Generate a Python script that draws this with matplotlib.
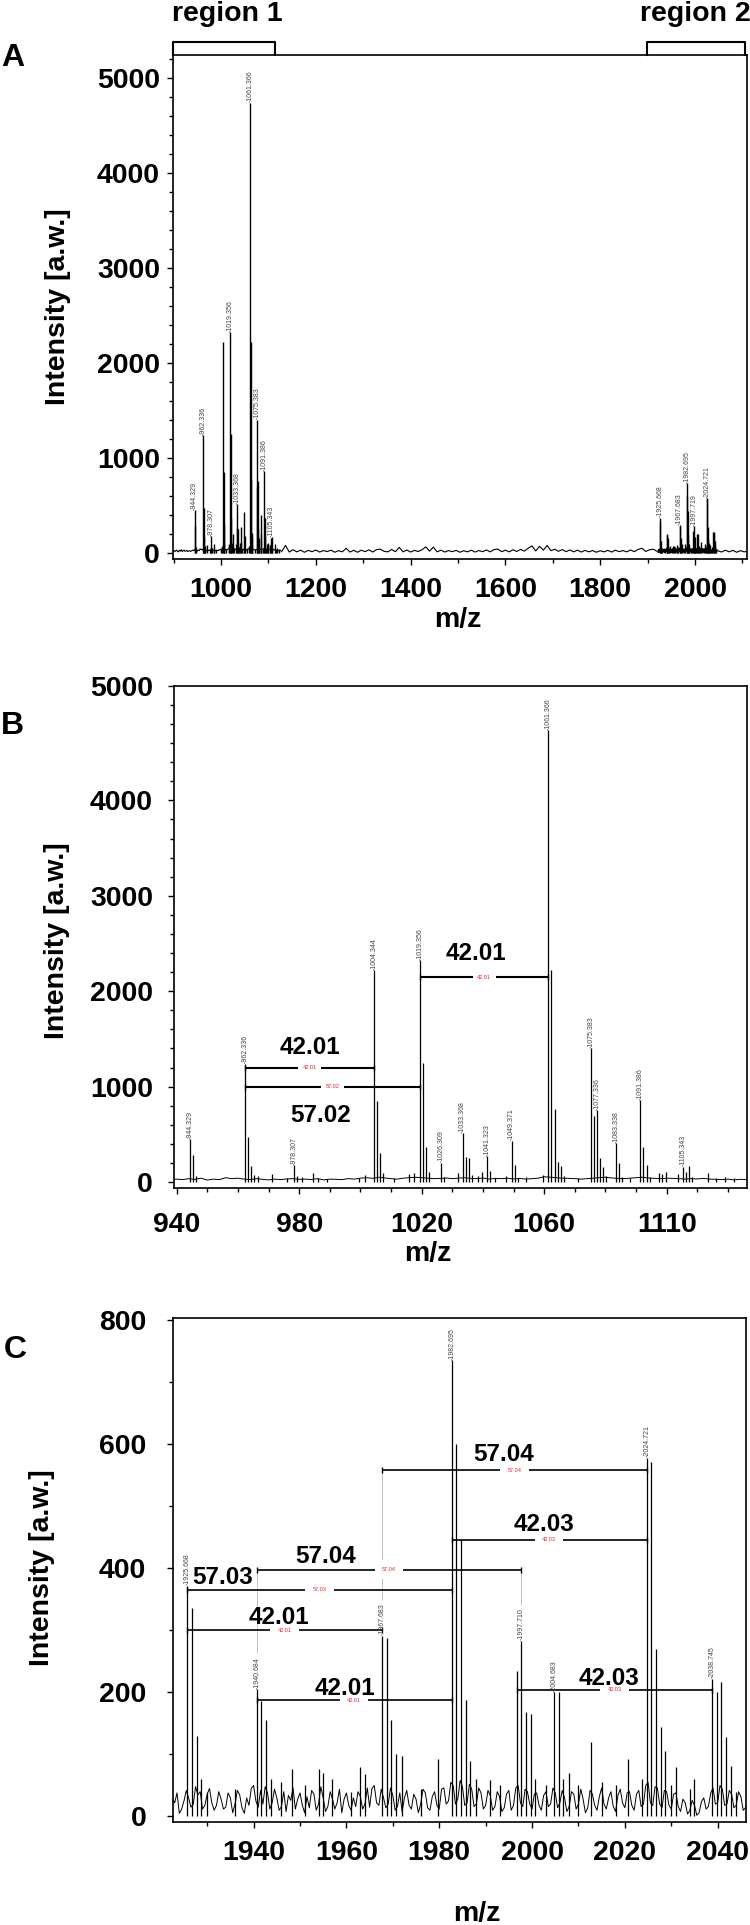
import numpy as np
import matplotlib
matplotlib.use("Agg")
import matplotlib.pyplot as plt
import matplotlib.transforms as mtrans
from matplotlib.ticker import FixedLocator, FixedFormatter

plt.rcParams['font.family'] = ['Liberation Sans', 'DejaVu Sans']
plt.rcParams['font.weight'] = 'bold'

# ====================== DATA ======================
# baseline noise, region 1 (m/z 898 .. 1126, every 2)
base1_mz = np.arange(898.0, 1126.5, 2.0)
base1_int = [20, 15, 25, 18, 30, 22, 12, 28, 20, 35, 15, 25, 30, 18, 22, 28, 15, 20, 25, 18,
             22, 30, 25, 35, 28, 40, 20, 30, 25, 45, 35, 40, 30, 25, 35, 28, 22, 30, 25, 32,
             35, 28, 30, 25, 35, 22, 30, 28, 25, 35, 30, 40, 45, 38, 50, 42, 35, 30, 40, 45,
             50, 45, 40, 35, 38, 42, 35, 40, 45, 38, 35, 42, 30, 38, 35, 40, 32, 38, 30, 35,
             40, 55, 50, 45, 40, 38, 35, 30, 35, 40, 45, 50, 42, 38, 35, 40, 45, 50, 42, 38,
             35, 40, 38, 35, 30, 35, 32, 38, 30, 28, 25, 30, 22, 28, 25]
# baseline noise between the two regions (m/z 1128 .. 1920, every 8)
basemid_mz = np.arange(1128.0, 1920.5, 8.0)
basemid_int = [15, 80, 10, 35, 12, 30, 8, 28, 14, 32,
               10, 26, 15, 30, 8, 25, 12, 50, 10, 28,
               8, 30, 14, 34, 10, 36, 40, 18, 12, 38,
               14, 60, 12, 32, 10, 28, 16, 34, 65, 20,
               62, 12, 30, 10, 26, 14, 28, 8, 24, 12,
               30, 10, 26, 14, 32, 12, 36, 42, 14, 30,
               12, 34, 16, 38, 20, 50, 75, 22, 70, 30,
               80, 25, 40, 18, 36, 14, 32, 12, 30, 10,
               28, 12, 26, 8, 24, 12, 28, 10, 30, 14,
               26, 12, 32, 14, 38, 50, 16, 34, 40, 18]
# baseline noise, region 2 (m/z 1922 .. 2046.5, every 0.5)
base2_mz = np.arange(1922.0, 2046.75, 0.5)
base2_int = [8, 30, 22, 38, 5, 12, 25, 42, 30, 15, 20, 48, 35, 40, 12, 18, 36, 45, 22, 10,
             18, 40, 28, 12, 15, 38, 30, 6, 20, 42, 35, 14, 5, 30, 18, 45, 50, 25, 15, 42,
             20, 48, 38, 12, 22, 44, 30, 10, 16, 40, 8, 34, 26, 46, 12, 28, 38, 18, 6, 32,
             14, 42, 36, 10, 20, 48, 30, 8, 16, 40, 28, 12, 22, 44, 6, 28, 38, 18, 10, 30,
             16, 40, 32, 12, 20, 46, 15, 45, 50, 22, 18, 44, 30, 14, 20, 46, 34, 10, 16, 38,
             8, 30, 42, 18, 12, 36, 28, 6, 20, 44, 38, 14, 10, 32, 40, 18, 12, 44, 46, 20,
             25, 55, 50, 20, 28, 58, 48, 18, 22, 52, 44, 16, 20, 46, 38, 12, 18, 42, 34, 10,
             16, 40, 32, 8, 14, 36, 42, 10, 18, 46, 50, 22, 16, 44, 40, 20, 12, 36, 38, 18,
             10, 34, 40, 16, 20, 46, 38, 14, 22, 42, 30, 8, 16, 40, 36, 12, 20, 44, 28, 6,
             14, 42, 36, 18, 10, 32, 46, 20, 12, 30, 40, 16, 8, 34, 44, 22, 14, 38, 40, 18,
             10, 36, 42, 16, 20, 50, 55, 22, 18, 48, 46, 20, 14, 42, 40, 18, 12, 36, 38, 16,
             8, 28, 22, 4, 10, 26, 18, 2, 6, 24, 30, 12, 16, 38, 46, 20, 22, 50, 44, 18,
             20, 42, 36, 14, 18, 40, 32, 10, 14, 30]
# baseline noise above region 2 (m/z 2048 .. 2112, every 8)
basetail_mz = np.arange(2048.0, 2112.5, 8.0)
basetail_int = [25, 10, 30, 12, 28, 8, 25, 12, 20]

# peaks, region 1
peak1_mz = [944.33, 945.33, 946.3, 962.34, 963.34, 964.34, 965.3, 966.5, 971.0, 976.0,
            978.31, 979.3, 981.0, 984.5, 986.0, 989.0, 999.5, 1001.4, 1004.34, 1005.34,
            1006.4, 1007.3, 1011.0, 1015.8, 1017.5, 1019.36, 1020.36, 1021.4, 1022.4, 1026.31,
            1027.3, 1031.8, 1033.37, 1034.37, 1035.4, 1036.4, 1038.5, 1039.6, 1041.32, 1042.3,
            1044.0, 1047.6, 1049.37, 1050.4, 1051.4, 1054.0, 1059.5, 1061.37, 1062.37, 1063.4,
            1064.4, 1065.4, 1066.4, 1071.0, 1075.38, 1076.38, 1077.34, 1078.3, 1079.3, 1080.3,
            1083.34, 1084.3, 1085.3, 1088.0, 1091.39, 1092.4, 1093.4, 1094.4, 1097.6, 1098.5,
            1099.7, 1103.6, 1105.34, 1106.3, 1107.3, 1108.3, 1113.4, 1116.0, 1119.0, 1122.0]
peak1_int = [450, 285, 60, 1240, 470, 168, 70, 60, 80, 40,
             178, 60, 50, 97, 40, 30, 45, 73, 2222, 852,
             307, 90, 40, 82, 90, 2327, 1251, 370, 108, 202,
             50, 94, 513, 265, 250, 70, 60, 108, 272, 115,
             40, 60, 433, 178, 40, 50, 70, 4738, 2222, 765,
             213, 170, 60, 40, 1401, 692, 755, 250, 160, 60,
             405, 200, 50, 40, 860, 370, 180, 50, 94, 80,
             108, 82, 160, 100, 170, 50, 90, 40, 50, 45]
# peaks, region 2
peak2_mz = [1925.67, 1926.67, 1927.7, 1928.7, 1930.0, 1936.0, 1940.68, 1941.68, 1942.7, 1943.7,
            1946.0, 1948.3, 1951.0, 1954.0, 1955.0, 1957.0, 1961.0, 1963.0, 1964.0, 1967.68,
            1968.68, 1969.7, 1970.7, 1972.0, 1976.0, 1979.8, 1982.70, 1983.7, 1984.7, 1985.7,
            1986.7, 1988.0, 1991.0, 1993.0, 1996.72, 1997.71, 1998.7, 1999.7, 2000.7, 2003.0,
            2004.68, 2005.7, 2006.7, 2008.0, 2010.0, 2012.7, 2015.0, 2018.0, 2020.6, 2023.7,
            2024.72, 2025.72, 2026.7, 2027.7, 2028.7, 2030.0, 2031.0, 2034.0, 2035.0, 2038.75,
            2039.75, 2040.75, 2041.8, 2042.8, 2044.0]
peak2_int = [372, 336, 130, 60, 40, 45, 205, 186, 156, 60,
             55, 76, 50, 77, 70, 60, 40, 80, 68, 291,
             288, 155, 100, 98, 45, 93, 735, 600, 447, 188,
             90, 60, 58, 50, 235, 283, 169, 165, 60, 50,
             200, 200, 60, 70, 50, 120, 55, 50, 93, 60,
             578, 572, 270, 145, 106, 50, 80, 45, 60, 222,
             200, 216, 128, 82, 40]

labels_A = ['944.329', '962.336', '978.307', '1019.356', '1033.368', '1061.366', '1075.383',
            '1091.386', '1105.343', '1925.668', '1967.683', '1982.695', '1997.719', '2024.721']
labels_B = ['944.329', '962.336', '978.307', '1004.344', '1019.356', '1026.309', '1033.368',
            '1041.323', '1049.371', '1061.366', '1075.383', '1077.336', '1083.338', '1091.386',
            '1105.343']
labels_C = ['1925.668', '1940.684', '1967.683', '1982.695', '1997.710', '2004.683', '2024.721',
            '2038.745']

# mass differences (start peak, end peak, value)
annB_start = [962.34, 962.34, 1019.36]
annB_end = [1004.34, 1019.36, 1061.37]
annB_text = ['42.01', '57.02', '42.01']
annC_start = [1925.67, 1940.68, 1925.67, 1940.68, 1967.68, 1982.70, 1996.72]
annC_end = [1982.70, 1997.71, 1967.68, 1982.70, 2024.72, 2024.72, 2038.75]
annC_text = ['57.03', '57.04', '42.01', '42.01', '57.04', '42.03', '42.03']

# ====================== LAYOUT ======================
W, H = 750, 1925
annB_y = [1200, 1000, 2146]
annB_lx = [983.5, 987.0, 1037.7]
annB_dy = [23, -26, 26]
annC_y = [365, 398, 300, 187, 558, 446, 204]
annC_lx = [1933.4, 1955.5, 1945.4, 1959.7, 1993.8, 2002.5, 2016.5]
annC_dy = [15, 16, 15, 14, 18, 18, 14]
region_bounds = [(899.0, 1114.0), (1899.0, 2105.5)]

TICK_FS = 20.4
LAB_FS = 20.5
BIG_FS = 17.5
RED = '#e3262e'

fig = plt.figure(figsize=(W / 100, H / 100), dpi=100)
fig.patch.set_facecolor('white')


def add_axes_px(left, top, right, bottom):
    return fig.add_axes([left / W, 1 - bottom / H, (right - left) / W, (bottom - top) / H])


def pt(px):
    return px * 72.0 / 100.0


def style_axes(ax, xpad_px, ypad_px):
    for s in ax.spines.values():
        s.set_linewidth(1.2)
    ax.tick_params(which='both', direction='out', width=1.0, colors='black')
    ax.tick_params(which='major', length=4)
    ax.tick_params(which='minor', length=3)
    ax.tick_params(axis='x', which='major', pad=pt(xpad_px), labelsize=TICK_FS)
    ax.tick_params(axis='y', which='major', pad=pt(ypad_px), labelsize=TICK_FS)


def draw_spectrum(ax, bases, pk_mz, pk_int, lw_base=0.7, lw_pk=0.9):
    for mz, iv in bases:
        ax.plot(mz, iv, color='black', lw=lw_base, zorder=2)
    ax.vlines(pk_mz, 0, pk_int, color='black', lw=lw_pk, zorder=2)


def label_peaks(ax, labels, pk_mz, pk_int):
    pk_mz = np.asarray(pk_mz)
    for lab in labels:
        i = int(np.argmin(np.abs(pk_mz - float(lab))))
        ax.annotate('-' + lab, (pk_mz[i], pk_int[i]), xytext=(0, 0.3),
                    textcoords='offset points', rotation=90, ha='center', va='bottom',
                    fontsize=5, fontweight='normal', color='#444444', zorder=4)


def draw_diffs(ax, starts, ends, ys, texts, lxs, dys, pad, lw, pk_mz, pk_int, labels):
    pk_mz = np.asarray(pk_mz)
    ppu = ax.transData.transform((0, 1))[1] - ax.transData.transform((0, 0))[1]
    lab_vals = [float(l) for l in labels]
    for x1, x2, y, t, lx, dy in zip(starts, ends, ys, texts, lxs, dys):
        for xe in (x1, x2):
            i = int(np.argmin(np.abs(pk_mz - xe)))
            top = pk_int[i]
            if min(abs(v - pk_mz[i]) for v in lab_vals) < 0.5:
                top = top + 36 / ppu
            if top < y:
                ax.vlines(xe, top, y, color='#b5b5b5', lw=0.6, zorder=2)
        ax.plot([x1, x2], [y, y], color='black', lw=lw, zorder=3, solid_capstyle='butt')
        ax.plot([x1, x2], [y, y], ls='none', marker='|', ms=5, mew=1.0, color='black', zorder=3)
        ax.text((x1 + x2) / 2, y, t, fontsize=4, fontweight='normal', color=RED,
                ha='center', va='center', zorder=5,
                bbox=dict(boxstyle='square,pad=%.2f' % pad, fc='white', ec='none'))
        ax.annotate(t, (lx, y), xytext=(0, pt(dy)), textcoords='offset points',
                    ha='center', va='center_baseline', fontsize=BIG_FS, fontweight='bold',
                    color='black', zorder=5)


# ---------------- Panel A ----------------
axA = add_axes_px(173, 55, 747, 559)
axA.set_xlim(898.7, 2109.7)
axA.set_ylim(-63, 5242)
draw_spectrum(axA, [(base1_mz, base1_int), (basemid_mz, basemid_int), (base2_mz, base2_int),
                    (basetail_mz, basetail_int)],
              peak1_mz + peak2_mz, peak1_int + peak2_int, lw_base=0.8, lw_pk=1.0)
axA.xaxis.set_major_locator(FixedLocator([1000, 1200, 1400, 1600, 1800, 2000]))
axA.xaxis.set_minor_locator(FixedLocator(np.arange(900, 2101, 100)))
axA.yaxis.set_major_locator(FixedLocator([0, 1000, 2000, 3000, 4000, 5000]))
axA.yaxis.set_minor_locator(FixedLocator(np.arange(0, 5201, 200)))
style_axes(axA, 12.4, 7.4)
label_peaks(axA, labels_A, peak1_mz + peak2_mz, peak1_int + peak2_int)
br_tr = mtrans.blended_transform_factory(axA.transData, axA.transAxes)
hb = 13 / 504
for (r1, r2), name in zip(region_bounds, ['region 1', 'region 2']):
    axA.plot([r1, r1, r2, r2], [1.0, 1 + hb, 1 + hb, 1.0], transform=br_tr, color='black',
             lw=1.5, clip_on=False, zorder=5)
fig.text(227 / W, 1 - 14 / H, 'region 1', fontsize=LAB_FS, fontweight='bold', ha='center', va='center')
fig.text(695 / W, 1 - 14 / H, 'region 2', fontsize=LAB_FS, fontweight='bold', ha='center', va='center')

# ---------------- Panel B ----------------
axB = add_axes_px(174, 685.7, 746.7, 1188)
axB.set_xlim(939.15, 1126.1)
axB.set_ylim(-63, 5202)
draw_spectrum(axB, [(base1_mz, base1_int)], peak1_mz, peak1_int)
axB.xaxis.set_major_locator(FixedLocator([940, 980, 1020, 1060, 1100]))
axB.xaxis.set_major_formatter(FixedFormatter(['940', '980', '1020', '1060', '1110']))
axB.xaxis.set_minor_locator(FixedLocator(np.arange(940, 1125, 10)))
axB.yaxis.set_major_locator(FixedLocator([0, 1000, 2000, 3000, 4000, 5200]))
axB.yaxis.set_major_formatter(FixedFormatter(['0', '1000', '2000', '3000', '4000', '5000']))
axB.yaxis.set_minor_locator(FixedLocator(np.arange(0, 5201, 200)))
style_axes(axB, 18.4, 15.4)
label_peaks(axB, labels_B, peak1_mz, peak1_int)
draw_diffs(axB, annB_start, annB_end, annB_y, annB_text, annB_lx, annB_dy, 0.8, 1.5,
           peak1_mz, peak1_int, labels_B)

# ---------------- Panel C ----------------
axC = add_axes_px(173.3, 1318.3, 746, 1821.7)
axC.set_xlim(1922.7, 2046.1)
axC.set_ylim(-8.4, 802.8)
draw_spectrum(axC, [(base2_mz, base2_int)], peak2_mz, peak2_int, lw_base=0.7, lw_pk=0.9)
axC.xaxis.set_major_locator(FixedLocator([1940, 1960, 1980, 2000, 2020, 2040]))
axC.xaxis.set_minor_locator(FixedLocator(np.arange(1930, 2046, 10)))
axC.yaxis.set_major_locator(FixedLocator([0, 200, 400, 600, 800]))
axC.yaxis.set_minor_locator(FixedLocator(np.arange(0, 801, 100)))
style_axes(axC, 12.7, 21.4)
label_peaks(axC, labels_C, peak2_mz, peak2_int)
draw_diffs(axC, annC_start, annC_end, annC_y, annC_text, annC_lx, annC_dy, 1.3, 1.2,
           peak2_mz, peak2_int, labels_C)

# ---------------- labels ----------------
for (x, y) in [(58, 307), (57.5, 941), (42, 1568)]:
    fig.text(x / W, 1 - y / H, 'Intensity [a.w.]', rotation=90, fontsize=LAB_FS,
             fontweight='bold', ha='center', va='center')
for (x, y) in [(458, 627), (428, 1261), (477, 1921)]:
    fig.text(x / W, 1 - y / H, 'm/z', fontsize=LAB_FS, fontweight='bold', ha='center', va='baseline')
for (x, y), letter in zip([(13, 58), (12, 726), (15, 1350)], ['A', 'B', 'C']):
    fig.text(x / W, 1 - y / H, letter, fontsize=23, fontweight='bold', ha='center', va='center')

fig.savefig('out.png', dpi=100, facecolor='white')
